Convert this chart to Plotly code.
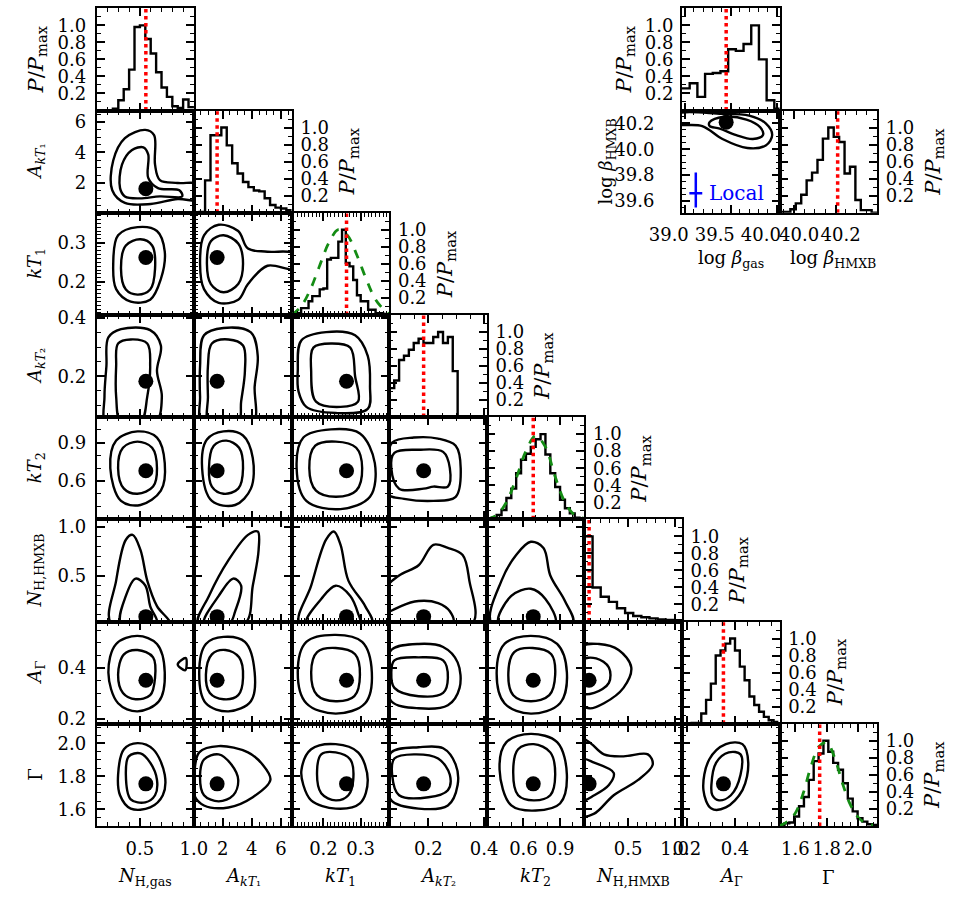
import plotly.graph_objects as go

FIG_W, FIG_H = 954, 898
SERIF = "DejaVu Serif"
GX0, GW = 96.7, 97.55
GY0, GH = 8.3, 102.2

# ---------------- parameters ----------------
PARAMS = ["nhg", "akt1", "kt1", "akt2", "kt2", "nhh", "ag", "gam"]
LABELS = ["<i>N</i><sub>H,gas</sub>", "<i>A</i><sub><i>kT</i>\u2081</sub>", "<i>kT</i><sub>1</sub>",
          "<i>A</i><sub><i>kT</i>\u2082</sub>", "<i>kT</i><sub>2</sub>", "<i>N</i><sub>H,HMXB</sub>",
          "<i>A</i><sub>\u0393</sub>", "\u0393"]
RANGES = {"nhg": [0.1, 1.003], "akt1": [0.05, 6.75], "kt1": [0.115, 0.377], "akt2": [0.06, 0.41],
          "kt2": [0.3, 1.1], "nhh": [0.03, 1.08], "ag": [0.18, 0.585], "gam": [1.5, 2.12]}
TICKVALS = {"nhg": [0.5, 1.0], "akt1": [2, 4, 6], "kt1": [0.2, 0.3], "akt2": [0.2, 0.4],
            "kt2": [0.6, 0.9], "nhh": [0.5, 1.0], "ag": [0.2, 0.4], "gam": [1.6, 1.8, 2.0]}
TICKTEXT = {"nhg": ["0.5", "1.0"], "akt1": ["2", "4", "6"], "kt1": ["0.2", "0.3"], "akt2": ["0.2", "0.4"],
            "kt2": ["0.6", "0.9"], "nhh": ["0.5", "1.0"], "ag": ["0.2", "0.4"], "gam": ["1.6", "1.8", "2.0"]}
MINOR = {"nhg": 0.1, "akt1": 0.5, "kt1": 0.01, "akt2": 0.05, "kt2": 0.1, "nhh": 0.1, "ag": 0.05, "gam": 0.05}
BEST = {"nhg": 0.555, "akt1": 1.62, "kt1": 0.262, "akt2": 0.183, "kt2": 0.68, "nhh": 0.08, "ag": 0.352, "gam": 1.755}

PROB_RANGE = [0.0, 1.2]
PROB_TICKS = [0.2, 0.4, 0.6, 0.8, 1.0]
PROB_TEXT = ["0.2", "0.4", "0.6", "0.8", "1.0"]

# ---------------- marginal histograms (start, bin width, heights) ----------------
HIST_START = {"nhg": 0.10, "akt1": 0.05, "kt1": 0.12, "akt2": 0.06, "kt2": 0.30, "nhh": 0.03, "ag": 0.18, "gam": 1.50}
HIST_BW = {"nhg": 0.05, "akt1": 0.372, "kt1": 0.01, "akt2": 0.0175, "kt2": 0.04, "nhh": 0.0875, "ag": 0.02, "gam": 0.031}
HIST_NHG = [0, 0, 0, 0.02, 0.12, 0.25, 0.48, 0.98, 1.0, 0.84, 0.67, 0.45, 0.27, 0.16, 0.05, 0.03, 0.13, 0.04]
HIST_AKT1 = [0, 0.01, 0.38, 0.91, 0.91, 1.0, 0.79, 0.58, 0.46, 0.36, 0.30, 0.26, 0.25, 0.17, 0.09, 0.06, 0.05, 0.03]
HIST_KT1 = [0.02, 0.02, 0.08, 0.08, 0.16, 0.22, 0.22, 0.30, 0.31, 0.65, 0.67, 0.67, 0.86, 1.0, 0.61, 0.57,
            0.41, 0.23, 0.16, 0.16, 0.06, 0.06, 0.02, 0.02, 0.01]
HIST_AKT2 = [0.34, 0.43, 0.67, 0.72, 0.79, 0.87, 0.92, 0.87, 0.87, 0.94, 1.0, 0.87, 0.94, 0.54, 0, 0, 0, 0, 0, 0]
HIST_KT2 = [0.01, 0.02, 0.05, 0.11, 0.25, 0.36, 0.54, 0.70, 0.77, 0.85, 0.94, 1.0, 0.76, 0.54, 0.38, 0.23,
            0.13, 0.07, 0.02, 0.01]
HIST_NHH = [1.0, 0.40, 0.29, 0.23, 0.155, 0.10, 0.065, 0.05, 0.037, 0.025, 0.018, 0.015]
HIST_AG = [0, 0, 0.01, 0.01, 0.12, 0.28, 0.47, 0.80, 0.86, 0.94, 1.0, 0.86, 0.67, 0.51, 0.32, 0.22, 0.14, 0.08, 0.04, 0.02]
HIST_GAM = [0.01, 0.03, 0.04, 0.11, 0.23, 0.34, 0.54, 0.76, 0.85, 1.0, 0.87, 0.74, 0.66, 0.50, 0.32, 0.17,
            0.09, 0.05, 0.02, 0.01]
HISTS = {"nhg": HIST_NHG, "akt1": HIST_AKT1, "kt1": HIST_KT1, "akt2": HIST_AKT2, "kt2": HIST_KT2,
         "nhh": HIST_NHH, "ag": HIST_AG, "gam": HIST_GAM}

# green dashed prior curves
PRIOR_KT1_X = [0.115, 0.14, 0.165, 0.19, 0.215, 0.24, 0.265, 0.29, 0.315, 0.34, 0.365, 0.38]
PRIOR_KT1_Y = [0.0, 0.1, 0.3, 0.58, 0.85, 1.0, 0.93, 0.7, 0.42, 0.18, 0.05, 0.0]
PRIOR_KT2_X = [0.3, 0.38, 0.46, 0.54, 0.62, 0.7, 0.78, 0.86, 0.94, 1.02, 1.1]
PRIOR_KT2_Y = [0.0, 0.05, 0.2, 0.48, 0.8, 0.98, 0.85, 0.5, 0.2, 0.05, 0.01]
PRIOR_GAM_X = [1.5, 1.55, 1.6, 1.65, 1.7, 1.75, 1.8, 1.85, 1.9, 1.95, 2.0, 2.05, 2.1]
PRIOR_GAM_Y = [0.0, 0.05, 0.15, 0.38, 0.7, 0.93, 0.98, 0.8, 0.5, 0.25, 0.1, 0.03, 0.01]
PRIORS = {"kt1": (PRIOR_KT1_X, PRIOR_KT1_Y), "kt2": (PRIOR_KT2_X, PRIOR_KT2_Y), "gam": (PRIOR_GAM_X, PRIOR_GAM_Y)}

# ---------------- contours (outer, inner) per panel: C<row><col> ----------------
C21_OUT = [[0.244, 1.52], [0.253, 3.47], [0.361, 4.94], [0.55, 5.48], [0.631, 5.14], [0.64, 3.2], [0.685, 2.19],
           [0.85, 2.0], [1.05, 1.9], [1.05, 0.9], [0.85, 0.95], [0.6, 0.62], [0.361, 0.69]]
C21_IN = [[0.316, 1.66], [0.334, 3.2], [0.424, 4.14], [0.532, 4.34], [0.577, 3.87], [0.577, 2.33], [0.667, 1.66],
          [0.865, 1.52], [0.892, 1.12], [0.685, 1.12], [0.496, 0.99], [0.361, 1.12]]
C31_OUT = [[0.253, 0.246], [0.298, 0.319], [0.478, 0.340], [0.658, 0.330], [0.73, 0.277], [0.694, 0.207],
           [0.595, 0.154], [0.415, 0.149], [0.28, 0.181]]
C31_IN = [[0.325, 0.233], [0.37, 0.293], [0.505, 0.309], [0.613, 0.293], [0.64, 0.233], [0.595, 0.18],
          [0.478, 0.167], [0.37, 0.18]]
C32_OUT = [[0.45, 0.246], [0.72, 0.319], [1.73, 0.346], [3.07, 0.330], [3.74, 0.285], [5.08, 0.277], [6.9, 0.272],
           [6.9, 0.233], [5.08, 0.241], [3.74, 0.194], [3.07, 0.154], [1.73, 0.146], [0.72, 0.181]]
C32_IN = [[0.92, 0.246], [1.19, 0.304], [2.06, 0.319], [3.07, 0.298], [3.4, 0.246], [3.07, 0.194], [2.06, 0.173],
          [1.19, 0.194]]
C41_OUT = [[0.19, 0.235], [0.208, 0.333], [0.325, 0.361], [0.595, 0.358], [0.694, 0.305], [0.658, 0.218],
           [0.703, 0.13], [0.64, 0.04], [0.19, 0.04], [0.172, 0.13]]
C41_IN = [[0.28, 0.235], [0.298, 0.312], [0.415, 0.326], [0.568, 0.312], [0.595, 0.235], [0.568, 0.13],
          [0.505, 0.04], [0.325, 0.04], [0.28, 0.13]]
C42_OUT = [[0.45, 0.235], [0.72, 0.34], [2.06, 0.365], [3.94, 0.35], [4.41, 0.27], [4.2, 0.165], [4.07, 0.04],
           [0.59, 0.04], [0.45, 0.13]]
C42_IN = [[0.99, 0.235], [1.26, 0.312], [2.4, 0.326], [3.4, 0.305], [3.53, 0.218], [3.27, 0.113], [3.07, 0.04],
          [1.06, 0.04], [0.99, 0.13]]
C43_OUT = [[0.131, 0.218], [0.141, 0.323], [0.207, 0.351], [0.285, 0.34], [0.319, 0.27], [0.325, 0.165],
           [0.319, 0.088], [0.233, 0.074], [0.154, 0.095], [0.133, 0.148]]
C43_IN = [[0.167, 0.218], [0.173, 0.298], [0.22, 0.312], [0.272, 0.298], [0.285, 0.2], [0.293, 0.113],
          [0.246, 0.095], [0.18, 0.113]]
C51_OUT = [[0.226, 0.7], [0.28, 0.916], [0.478, 0.988], [0.658, 0.94], [0.73, 0.74], [0.694, 0.524], [0.505, 0.412],
           [0.325, 0.444]]
C51_IN = [[0.298, 0.7], [0.343, 0.86], [0.478, 0.908], [0.613, 0.86], [0.658, 0.7], [0.622, 0.556], [0.478, 0.5],
          [0.352, 0.54]]
C52_OUT = [[0.59, 0.7], [0.92, 0.924], [2.06, 0.988], [3.4, 0.956], [4.07, 0.78], [3.94, 0.54], [2.86, 0.412],
           [1.26, 0.444]]
C52_IN = [[1.06, 0.7], [1.39, 0.876], [2.26, 0.916], [3.13, 0.86], [3.4, 0.7], [3.07, 0.54], [2.06, 0.5], [1.26, 0.556]]
C53_OUT = [[0.128, 0.7], [0.146, 0.94], [0.22, 1.004], [0.298, 0.972], [0.338, 0.74], [0.325, 0.476], [0.246, 0.38],
           [0.154, 0.444]]
C53_IN = [[0.162, 0.7], [0.178, 0.876], [0.233, 0.908], [0.288, 0.86], [0.304, 0.7], [0.288, 0.524], [0.233, 0.476],
          [0.18, 0.524]]
C54_OUT = [[0.05, 0.7], [0.07, 0.9], [0.148, 0.94], [0.235, 0.932], [0.298, 0.876], [0.316, 0.7], [0.298, 0.476],
           [0.218, 0.444], [0.113, 0.46], [0.05, 0.5]]
C54_IN = [[0.067, 0.7], [0.078, 0.82], [0.165, 0.844], [0.253, 0.828], [0.277, 0.7], [0.27, 0.556], [0.218, 0.556],
          [0.183, 0.54], [0.095, 0.54]]
C61_OUT = [[0.235, 0.009], [0.28, 0.45], [0.37, 0.87], [0.433, 0.92], [0.505, 0.765], [0.568, 0.45], [0.658, 0.188],
           [0.775, 0.009]]
C61_IN = [[0.325, 0.009], [0.37, 0.293], [0.46, 0.471], [0.55, 0.4], [0.595, 0.188], [0.658, 0.009]]
C62_OUT = [[0.32, 0.009], [1.06, 0.293], [2.4, 0.66], [3.74, 0.92], [4.41, 0.954], [4.47, 0.765], [4.07, 0.398],
           [3.53, 0.009]]
C62_IN = [[0.72, 0.009], [1.73, 0.293], [2.73, 0.471], [3.27, 0.398], [2.86, 0.135], [2.46, 0.009]]
C63_OUT = [[0.136, 0.009], [0.167, 0.398], [0.207, 0.87], [0.228, 0.954], [0.246, 0.818], [0.267, 0.45],
           [0.312, 0.188], [0.33, 0.009]]
C63_IN = [[0.154, 0.009], [0.194, 0.261], [0.233, 0.398], [0.272, 0.293], [0.293, 0.114], [0.298, 0.009]]
C64_OUT = [[0.04, 0.345], [0.095, 0.503], [0.165, 0.608], [0.218, 0.818], [0.27, 0.786], [0.323, 0.713],
           [0.347, 0.45], [0.358, 0.009], [0.04, 0.009]]
C64_IN = [[0.04, 0.083], [0.102, 0.188], [0.165, 0.24], [0.235, 0.219], [0.277, 0.135], [0.288, 0.009], [0.04, 0.009]]
C65_OUT = [[0.34, 0.009], [0.42, 0.45], [0.54, 0.713], [0.66, 0.849], [0.764, 0.786], [0.82, 0.503], [0.94, 0.24],
           [1.004, 0.009]]
C65_IN = [[0.396, 0.009], [0.5, 0.293], [0.66, 0.366], [0.78, 0.261], [0.86, 0.009]]
C71_OUT = [[0.208, 0.383], [0.28, 0.496], [0.478, 0.528], [0.658, 0.496], [0.73, 0.383], [0.676, 0.269],
           [0.478, 0.229], [0.298, 0.261]]
C71_IN = [[0.298, 0.374], [0.352, 0.455], [0.478, 0.472], [0.622, 0.443], [0.64, 0.362], [0.595, 0.293],
          [0.46, 0.277], [0.343, 0.302]]
C71_ISLAND = [[0.85, 0.415], [0.925, 0.44], [0.92, 0.392]]
C72_OUT = [[0.39, 0.383], [0.85, 0.496], [2.06, 0.524], [3.53, 0.504], [4.2, 0.383], [3.94, 0.269], [2.4, 0.229],
           [0.85, 0.261]]
C72_IN = [[0.85, 0.374], [1.26, 0.455], [2.19, 0.472], [3.13, 0.443], [3.4, 0.362], [3.07, 0.293], [2.06, 0.277],
          [1.12, 0.302]]
C73_OUT = [[0.131, 0.383], [0.154, 0.504], [0.233, 0.532], [0.304, 0.504], [0.33, 0.383], [0.312, 0.261],
           [0.233, 0.22], [0.154, 0.261]]
C73_IN = [[0.167, 0.383], [0.183, 0.464], [0.233, 0.48], [0.285, 0.455], [0.298, 0.374], [0.283, 0.289],
          [0.233, 0.269], [0.183, 0.293]]
C74_OUT = [[0.053, 0.383], [0.067, 0.472], [0.165, 0.496], [0.253, 0.484], [0.305, 0.423], [0.312, 0.322],
           [0.27, 0.253], [0.165, 0.241], [0.067, 0.269]]
C74_IN = [[0.067, 0.383], [0.078, 0.431], [0.165, 0.443], [0.253, 0.431], [0.27, 0.362], [0.253, 0.302],
          [0.165, 0.289], [0.078, 0.322]]
C75_OUT = [[0.38, 0.383], [0.444, 0.496], [0.66, 0.528], [0.876, 0.496], [0.956, 0.383], [0.9, 0.261], [0.66, 0.22],
           [0.444, 0.261]]
C75_IN = [[0.476, 0.383], [0.524, 0.464], [0.676, 0.48], [0.828, 0.455], [0.86, 0.374], [0.812, 0.293],
          [0.66, 0.269], [0.516, 0.293]]
C76_OUT = [[0.0, 0.261], [0.0, 0.484], [0.188, 0.496], [0.398, 0.472], [0.534, 0.403], [0.45, 0.322], [0.24, 0.261],
           [0.083, 0.241]]
C76_IN = [[0.0, 0.302], [0.0, 0.431], [0.156, 0.439], [0.293, 0.403], [0.293, 0.342], [0.135, 0.302]]
C81_OUT = [[0.298, 1.81], [0.352, 1.965], [0.478, 2.002], [0.622, 1.965], [0.73, 1.81], [0.712, 1.686],
           [0.595, 1.612], [0.415, 1.605], [0.316, 1.686]]
C81_IN = [[0.37, 1.81], [0.397, 1.922], [0.505, 1.94], [0.595, 1.884], [0.658, 1.779], [0.64, 1.686], [0.55, 1.643],
          [0.415, 1.661]]
C82_OUT = [[0.05, 1.81], [0.39, 1.946], [1.73, 1.984], [3.74, 1.946], [4.74, 1.872], [5.28, 1.779], [4.07, 1.674],
           [2.4, 1.612], [0.72, 1.624], [0.05, 1.686]]
C82_IN = [[0.45, 1.81], [0.72, 1.903], [1.73, 1.934], [2.6, 1.872], [3.07, 1.779], [2.73, 1.686], [1.73, 1.649],
          [0.72, 1.686]]
C83_OUT = [[0.141, 1.841], [0.167, 1.965], [0.233, 1.996], [0.293, 1.946], [0.319, 1.779], [0.298, 1.636],
           [0.233, 1.605], [0.167, 1.655], [0.146, 1.748]]
C83_IN = [[0.183, 1.841], [0.194, 1.934], [0.233, 1.946], [0.272, 1.903], [0.28, 1.779], [0.267, 1.686],
          [0.233, 1.655], [0.194, 1.698]]
C84_OUT = [[0.053, 1.81], [0.067, 1.946], [0.165, 1.977], [0.253, 1.971], [0.298, 1.872], [0.305, 1.748],
           [0.27, 1.624], [0.165, 1.605], [0.067, 1.655]]
C84_IN = [[0.07, 1.81], [0.078, 1.909], [0.148, 1.934], [0.235, 1.909], [0.277, 1.81], [0.27, 1.717], [0.2, 1.674],
          [0.095, 1.686]]
C85_OUT = [[0.404, 1.841], [0.46, 2.008], [0.66, 2.058], [0.876, 2.008], [0.956, 1.81], [0.9, 1.636], [0.7, 1.593],
           [0.5, 1.624]]
C85_IN = [[0.516, 1.841], [0.556, 1.965], [0.684, 1.996], [0.82, 1.946], [0.86, 1.81], [0.82, 1.686], [0.684, 1.655],
          [0.556, 1.686]]
C86_OUT = [[0.0, 2.027], [0.083, 2.008], [0.24, 1.934], [0.45, 1.922], [0.713, 1.934], [0.765, 1.872],
           [0.608, 1.779], [0.345, 1.686], [0.135, 1.574], [0.0, 1.562]]
C86_IN = [[0.0, 1.903], [0.135, 1.884], [0.345, 1.822], [0.293, 1.748], [0.135, 1.686], [0.0, 1.655]]
C87_OUT = [[0.269, 1.717], [0.293, 1.903], [0.362, 1.996], [0.431, 1.996], [0.455, 1.884], [0.431, 1.717],
           [0.362, 1.612], [0.302, 1.605]]
C87_IN = [[0.302, 1.748], [0.322, 1.884], [0.374, 1.946], [0.423, 1.934], [0.423, 1.81], [0.383, 1.686],
          [0.334, 1.655], [0.306, 1.686]]

CONTOURS = {(2, 1): (C21_OUT, C21_IN), (3, 1): (C31_OUT, C31_IN), (3, 2): (C32_OUT, C32_IN),
            (4, 1): (C41_OUT, C41_IN), (4, 2): (C42_OUT, C42_IN), (4, 3): (C43_OUT, C43_IN),
            (5, 1): (C51_OUT, C51_IN), (5, 2): (C52_OUT, C52_IN), (5, 3): (C53_OUT, C53_IN), (5, 4): (C54_OUT, C54_IN),
            (6, 1): (C61_OUT, C61_IN), (6, 2): (C62_OUT, C62_IN), (6, 3): (C63_OUT, C63_IN), (6, 4): (C64_OUT, C64_IN),
            (6, 5): (C65_OUT, C65_IN),
            (7, 1): (C71_OUT, C71_IN, C71_ISLAND), (7, 2): (C72_OUT, C72_IN), (7, 3): (C73_OUT, C73_IN),
            (7, 4): (C74_OUT, C74_IN), (7, 5): (C75_OUT, C75_IN), (7, 6): (C76_OUT, C76_IN),
            (8, 1): (C81_OUT, C81_IN), (8, 2): (C82_OUT, C82_IN), (8, 3): (C83_OUT, C83_IN), (8, 4): (C84_OUT, C84_IN),
            (8, 5): (C85_OUT, C85_IN), (8, 6): (C86_OUT, C86_IN), (8, 7): (C87_OUT, C87_IN)}

# ---------------- beta panels (top right) ----------------
BGAS_RANGE = [38.97, 40.03]
BGAS_TICKS = [39.0, 39.5, 40.0]
BGAS_TEXT = ["39.0", "39.5", "40.0"]
BHX_Y_RANGE = [39.51, 40.30]
BHX_Y_TICKS = [39.6, 39.8, 40.0, 40.2]
BHX_Y_TEXT = ["39.6", "39.8", "40.0", "40.2"]
BHX_X_RANGE = [39.93, 40.40]
BHX_X_TICKS = [40.0, 40.2]
BHX_X_TEXT = ["40.0", "40.2"]
BEST_BGAS, BEST_BHX = 39.45, 40.21
HIST_BGAS_START, HIST_BGAS_BW = 38.97, 0.0836
HIST_BGAS = [0.26, 0.32, 0.16, 0.43, 0.44, 0.46, 0.72, 0.70, 0.78, 1.0, 0.60, 0.12, 0.02]
HIST_BHX_START, HIST_BHX_BW = 39.93, 0.0261
HIST_BHX = [0.01, 0.01, 0.04, 0.11, 0.21, 0.38, 0.47, 0.62, 0.87, 1.0, 0.89, 0.83, 0.46, 0.54, 0.15, 0.03, 0.03, 0.0]
CB_OUT = [[38.9, 40.27], [39.4, 40.275], [39.7, 40.26], [39.88, 40.2], [39.95, 40.11], [39.88, 40.03],
          [39.68, 40.01], [39.41, 40.08], [39.19, 40.18], [38.9, 40.2]]
CB_IN = [[39.27, 40.21], [39.41, 40.25], [39.67, 40.23], [39.82, 40.17], [39.85, 40.11], [39.74, 40.08],
         [39.56, 40.11], [39.38, 40.16], [39.27, 40.18]]
LOCAL_X, LOCAL_Y = 39.12, 39.66
LOCAL_XERR = 0.07
LOCAL_YERR_PLUS, LOCAL_YERR_MINUS = 0.16, 0.11
LOCAL_TEXT = "Local"

# ---------------- helpers ----------------
fig = go.Figure()
layout_axes = {}
annotations = []
counter = [0]
TICKFONT = dict(family=SERIF, size=18, color="black")
LW = 2.4
XSTANDOFF = 5


def axis_style(rng, tv, tt, minor_dtick, show, side=None, standoff=0, shift=0):
    d = dict(range=rng, showgrid=False, zeroline=False, showline=True, linecolor="black", linewidth=2,
             mirror="allticks", ticks="inside", ticklen=8, tickwidth=1.6, tickcolor="black",
             tickmode="array", tickvals=tv, ticktext=tt, showticklabels=show, tickfont=TICKFONT,
             ticklabelstandoff=standoff, ticklabelshift=shift, fixedrange=True, automargin=False, tickangle=0,
             minor=dict(ticks="inside", ticklen=4, tickwidth=1.2, tickcolor="black", tickmode="linear",
                        tick0=0, dtick=minor_dtick, showgrid=False))
    if side:
        d["side"] = side
    return d


def new_axes(col, row, xspec, yspec):
    counter[0] += 1
    n = counter[0]
    s = "" if n == 1 else str(n)
    xd = [(GX0 + col * GW) / FIG_W, (GX0 + (col + 1) * GW) / FIG_W]
    yd = [1 - (GY0 + (row + 1) * GH) / FIG_H, 1 - (GY0 + row * GH) / FIG_H]
    layout_axes["xaxis" + s] = dict(domain=xd, anchor="y" + s, **xspec)
    layout_axes["yaxis" + s] = dict(domain=yd, anchor="x" + s, **yspec)
    return "x" + s, "y" + s


def add_hist(xa, ya, start, bw, heights, best, prior=None):
    edges = [start + bw * i for i in range(len(heights) + 1)]
    fig.add_trace(go.Scatter(x=edges, y=list(heights) + [heights[-1]], mode="lines", line_shape="hv",
                             line=dict(color="black", width=LW), xaxis=xa, yaxis=ya, showlegend=False))
    if prior is not None:
        fig.add_trace(go.Scatter(x=prior[0], y=prior[1], mode="lines", line_shape="spline",
                                 line=dict(color="rgb(20,140,20)", width=2.8, dash="dash"),
                                 xaxis=xa, yaxis=ya, showlegend=False))
    fig.add_trace(go.Scatter(x=[best, best], y=PROB_RANGE, mode="lines",
                             line=dict(color="red", width=3.5, dash="dot"), xaxis=xa, yaxis=ya, showlegend=False))


def add_contours(xa, ya, curves, bx, by):
    for c in curves:
        xs = [p[0] for p in c] + [c[0][0]]
        ys = [p[1] for p in c] + [c[0][1]]
        fig.add_trace(go.Scatter(x=xs, y=ys, mode="lines", line_shape="spline",
                                 line=dict(color="black", width=LW, smoothing=1.0),
                                 xaxis=xa, yaxis=ya, showlegend=False))
    fig.add_trace(go.Scatter(x=[bx], y=[by], mode="markers", marker=dict(color="black", size=15),
                             xaxis=xa, yaxis=ya, showlegend=False))


def ann(text, px, py, size=18, angle=0, color="black", xanchor="center"):
    annotations.append(dict(text=text, x=px / FIG_W, y=1 - py / FIG_H, xref="paper", yref="paper",
                            showarrow=False, textangle=angle, xanchor=xanchor, yanchor="middle",
                            font=dict(family=SERIF, size=size, color=color)))


PPMAX = "<i>P</i>/<i>P</i><sub>max</sub>"

# ---------------- main corner grid ----------------
for r in range(8):
    for c in range(r + 1):
        pc, pr = PARAMS[c], PARAMS[r]
        xspec = axis_style(RANGES[pc], TICKVALS[pc], TICKTEXT[pc], MINOR[pc], r == 7, standoff=XSTANDOFF)
        if r == c:
            if r == 0:
                yspec = axis_style(PROB_RANGE, PROB_TICKS, PROB_TEXT, 0.1, True, side="left", standoff=5)
            else:
                yspec = axis_style(PROB_RANGE, PROB_TICKS, PROB_TEXT, 0.1, True, side="right", standoff=3)
            xa, ya = new_axes(c, r, xspec, yspec)
            add_hist(xa, ya, HIST_START[pc], HIST_BW[pc], HISTS[pc], BEST[pc], PRIORS.get(pc))
        else:
            yspec = axis_style(RANGES[pr], TICKVALS[pr], TICKTEXT[pr], MINOR[pr], c == 0, standoff=5)
            xa, ya = new_axes(c, r, xspec, yspec)
            add_contours(xa, ya, CONTOURS[(r + 1, c + 1)], BEST[pc], BEST[pr])

# ---------------- beta panels ----------------
xa, ya = new_axes(6, 0, axis_style(BGAS_RANGE, BGAS_TICKS, BGAS_TEXT, 0.1, False),
                  axis_style(PROB_RANGE, PROB_TICKS, PROB_TEXT, 0.1, True, side="left", standoff=3))
add_hist(xa, ya, HIST_BGAS_START, HIST_BGAS_BW, HIST_BGAS, BEST_BGAS)

xa, ya = new_axes(6, 1, axis_style(BGAS_RANGE, BGAS_TICKS, BGAS_TEXT, 0.1, True, standoff=XSTANDOFF, shift=-16),
                  axis_style(BHX_Y_RANGE, BHX_Y_TICKS, BHX_Y_TEXT, 0.05, True, standoff=22))
add_contours(xa, ya, (CB_OUT, CB_IN), BEST_BGAS, BEST_BHX)
fig.add_trace(go.Scatter(x=[LOCAL_X], y=[LOCAL_Y], mode="markers", marker=dict(size=1, color="blue"),
                         error_x=dict(type="constant", value=LOCAL_XERR, color="blue", thickness=2.5, width=0),
                         error_y=dict(type="data", array=[LOCAL_YERR_PLUS], arrayminus=[LOCAL_YERR_MINUS],
                                      color="blue", thickness=2.5, width=0),
                         xaxis=xa, yaxis=ya, showlegend=False))
annotations.append(dict(text=LOCAL_TEXT, x=LOCAL_X + 0.12, y=LOCAL_Y, xref=xa, yref=ya, showarrow=False,
                        xanchor="left", yanchor="middle", font=dict(family=SERIF, size=20, color="blue")))

xa, ya = new_axes(7, 1, axis_style(BHX_X_RANGE, BHX_X_TICKS, BHX_X_TEXT, 0.05, True, standoff=XSTANDOFF, shift=5),
                  axis_style(PROB_RANGE, PROB_TICKS, PROB_TEXT, 0.1, True, side="right", standoff=3))
add_hist(xa, ya, HIST_BHX_START, HIST_BHX_BW, HIST_BHX, BEST_BHX)

# ---------------- titles ----------------
for i in range(8):
    cx = GX0 + (i + 0.5) * GW
    ann(LABELS[i], cx, 877, size=18)
    cy = GY0 + (i + 0.5) * GH
    if i == 0:
        ann(PPMAX, 37, cy, size=21, angle=-90)
    else:
        ann(LABELS[i], 36, cy, size=18, angle=-90)
        ann(PPMAX, GX0 + (i + 1) * GW + 56, cy, size=21, angle=-90)

ann(PPMAX, 625, GY0 + 0.5 * GH, size=21, angle=-90)
ann(PPMAX, GX0 + 8 * GW + 56, GY0 + 1.5 * GH, size=21, angle=-90)
ann("log <i>\u03b2</i><sub>gas</sub>", 731, 259, size=18)
ann("log <i>\u03b2</i><sub>HMXB</sub>", 833, 259, size=18)
ann("log <i>\u03b2</i><sub>HMXB</sub>", 607, GY0 + 1.5 * GH, size=18, angle=-90)

fig.update_layout(width=FIG_W, height=FIG_H, margin=dict(l=0, r=0, t=0, b=0, pad=0, autoexpand=False),
                  autosize=False, paper_bgcolor="white", plot_bgcolor="white", showlegend=False,
                  annotations=annotations, **layout_axes)
fig.write_html("out.html", config={"responsive": False, "displayModeBar": False},
               post_script="document.body.style.margin='0px';")
